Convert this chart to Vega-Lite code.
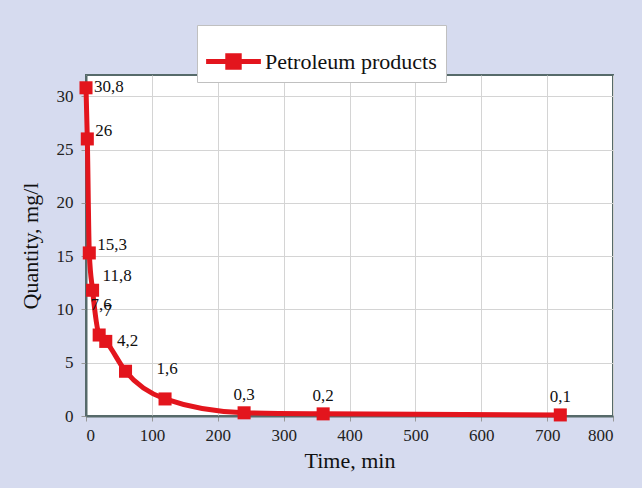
{
  "$schema": "https://vega.github.io/schema/vega-lite/v6.json",
  "width": 527,
  "height": 341,
  "autosize": {"type": "none"},
  "padding": {"left": 86, "top": 75, "right": 29, "bottom": 72},
  "background": "#d6dbef",
  "config": {
    "locale": {"number": {"decimal": ",", "thousands": " ", "grouping": [3], "currency": ["", ""]}},
    "font": "Times New Roman",
    "text": {"font": "Times New Roman"},
    "view": {"fill": "white", "stroke": "#566a6a", "strokeWidth": 2},
    "axis": {
      "labelFont": "Times New Roman",
      "titleFont": "Times New Roman",
      "labelFontSize": 17,
      "titleFontSize": 22,
      "titleFontWeight": "normal",
      "labelColor": "#222",
      "titleColor": "#111",
      "gridColor": "#d4d4d4",
      "gridWidth": 1,
      "domainColor": "#566a6a",
      "domainWidth": 2,
      "tickColor": "#999",
      "tickSize": 5
    }
  },
  "data": {"values": [
    {"t": 0, "q": 30.8},
    {"t": 2, "q": 26},
    {"t": 5, "q": 15.3},
    {"t": 10, "q": 11.8},
    {"t": 20, "q": 7.6},
    {"t": 30, "q": 7},
    {"t": 60, "q": 4.2},
    {"t": 120, "q": 1.6},
    {"t": 240, "q": 0.3},
    {"t": 360, "q": 0.2},
    {"t": 720, "q": 0.1}
  ]},
  "encoding": {
    "x": {"field": "t", "type": "quantitative", "title": "Time, min",
      "scale": {"domain": [0, 800], "nice": false},
      "axis": {"values": [0, 100, 200, 300, 400, 500, 600, 700, 800], "labelPadding": 6, "titlePadding": 7}},
    "y": {"field": "q", "type": "quantitative", "title": "Quantity, mg/l",
      "scale": {"domain": [0, 32], "nice": false},
      "axis": {"values": [0, 5, 10, 15, 20, 25, 30], "labelPadding": 8, "titlePadding": 14}}
  },
  "layer": [
    {
      "mark": {"type": "line", "interpolate": "monotone", "strokeWidth": 5},
      "encoding": {
        "color": {"datum": "Petroleum products", "type": "nominal",
          "scale": {"range": ["#e3151d"]},
          "legend": {
            "title": null,
            "orient": "none",
            "legendX": 111,
            "legendY": -50,
            "fillColor": "white",
            "strokeColor": "#c0c0c0",
            "padding": 9,
            "labelFont": "Times New Roman",
            "labelFontSize": 22,
            "labelColor": "#111",
            "labelOffset": 4,
            "labelLimit": 0,
            "symbolType": "M-1,-0.09H1V0.09H-1Z M-0.3,-0.3H0.3V0.3H-0.3Z",
            "symbolSize": 3000,
            "symbolFillColor": "#e3151d",
            "symbolStrokeColor": "#e3151d",
            "symbolStrokeWidth": 0
          }
        }
      }
    },
    {
      "mark": {"type": "point", "shape": "square", "filled": true, "size": 170, "color": "#e3151d", "opacity": 1}
    },
    {
      "transform": [{"filter": "datum.q >= 30"}],
      "mark": {"type": "text", "font": "Times New Roman", "align": "left", "baseline": "middle", "dx": 8, "dy": -1, "fontSize": 17, "color": "#111"},
      "encoding": {"text": {"field": "q", "type": "quantitative", "format": "~g"}}
    },
    {
      "transform": [{"filter": "datum.q > 12 && datum.q < 30"}],
      "mark": {"type": "text", "font": "Times New Roman", "align": "left", "baseline": "middle", "dx": 8, "dy": -8, "fontSize": 17, "color": "#111"},
      "encoding": {"text": {"field": "q", "type": "quantitative", "format": "~g"}}
    },
    {
      "transform": [{"filter": "datum.q > 10 && datum.q < 12"}],
      "mark": {"type": "text", "font": "Times New Roman", "align": "left", "baseline": "middle", "dx": 10, "dy": -14, "fontSize": 17, "color": "#111"},
      "encoding": {"text": {"field": "q", "type": "quantitative", "format": "~g"}}
    },
    {
      "transform": [{"filter": "datum.q > 1 && datum.q < 10"}],
      "mark": {"type": "text", "font": "Times New Roman", "align": "center", "baseline": "middle", "dx": 2, "dy": -30, "fontSize": 17, "color": "#111"},
      "encoding": {"text": {"field": "q", "type": "quantitative", "format": "~g"}}
    },
    {
      "transform": [{"filter": "datum.q < 1"}],
      "mark": {"type": "text", "font": "Times New Roman", "align": "center", "baseline": "middle", "dx": 0, "dy": -18, "fontSize": 17, "color": "#111"},
      "encoding": {"text": {"field": "q", "type": "quantitative", "format": "~g"}}
    }
  ]
}
